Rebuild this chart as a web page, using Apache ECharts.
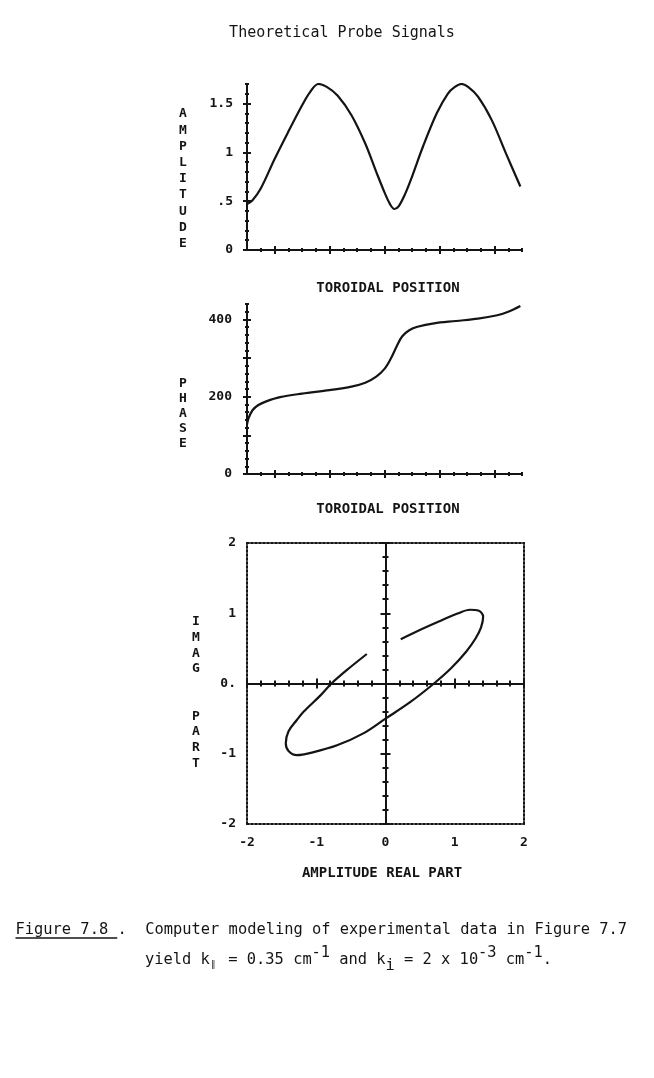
<!DOCTYPE html>
<html>
<head>
<meta charset="utf-8">
<script src="https://cdn.jsdelivr.net/npm/echarts@6/dist/echarts.min.js"></script>
<style>
  html, body { margin: 0; padding: 0; background: #fff; }
  #chart { width: 654px; height: 1078px; }
</style>
</head>
<body>
<div id="chart"></div>
<script>
// top panel: amplitude vs toroidal position
const ampPosition = [0, 0.1, 0.25, 0.5, 0.75, 1.0, 1.15, 1.3, 1.45, 1.65, 1.9, 2.15, 2.35, 2.5, 2.6, 2.68, 2.76, 2.88, 3.0, 3.2, 3.45, 3.65, 3.78, 3.9, 4.02, 4.2, 4.45, 4.7, 4.97];
const amplitude = [0.47, 0.51, 0.63, 0.93, 1.21, 1.48, 1.62, 1.70, 1.67, 1.58, 1.38, 1.09, 0.80, 0.59, 0.47, 0.42, 0.45, 0.58, 0.75, 1.06, 1.40, 1.60, 1.67, 1.70, 1.67, 1.57, 1.33, 1.00, 0.65];

// middle panel: phase vs toroidal position
const phasePosition = [0, 0.03, 0.1, 0.2, 0.35, 0.6, 1.0, 1.5, 1.9, 2.15, 2.35, 2.5, 2.62, 2.72, 2.82, 2.95, 3.1, 3.4, 3.8, 4.2, 4.55, 4.75, 4.97];
const phase = [128, 145, 165, 178, 188, 199, 208, 217, 226, 236, 252, 272, 300, 330, 356, 372, 381, 390, 396, 402, 411, 420, 435];

// bottom panel: imaginary vs real part
const realPart = [0.22, 0.45, 0.79, 1.05, 1.22, 1.34, 1.41, 1.38, 1.30, 1.17, 0.95, 0.70, 0.35, 0.0, -0.32, -0.70, -1.05, -1.28, -1.40, -1.44, -1.40, -1.28, -1.18, -0.95, -0.78, -0.56, -0.27];
const imagPart = [0.63, 0.74, 0.89, 1.00, 1.05, 1.04, 0.95, 0.80, 0.64, 0.46, 0.22, 0.0, -0.27, -0.50, -0.71, -0.88, -0.98, -1.02, -0.96, -0.85, -0.68, -0.52, -0.40, -0.18, 0.0, 0.19, 0.42];

// tick labels
const ampLabels = [0, 0.5, 1, 1.5];
const phaseLabels = [0, 200, 400];
const reLabels = [-2, -1, 0, 1, 2];
const imLabels = [-2, -1, 0, 1, 2];

const INK = '#141414';
const MONO = '"DejaVu Sans Mono", "Liberation Mono", monospace';

const steps = (a, b, s) => {
  const out = [];
  for (let v = a; v <= b + 1e-9; v += s) out.push(Math.round(v * 1000) / 1000);
  return out;
};
const without = (arr, ex) => arr.filter(v => !ex.some(e => Math.abs(e - v) < 1e-6));

const xAxes = [];
const yAxes = [];
const addX = o => { xAxes.push(o); return xAxes.length - 1; };
const addY = o => { yAxes.push(o); return yAxes.length - 1; };

const labelStyle = { color: INK, fontFamily: MONO, fontWeight: 'bold', fontSize: 13 };

function mainAxis(grid, min, max, position, labels, margin, formatter, lineType) {
  return {
    type: 'value', gridIndex: grid, min, max, position,
    axisLine: { show: true, onZero: false, lineStyle: { color: INK, width: 2, type: lineType || 'solid' } },
    axisTick: { show: false },
    splitLine: { show: false },
    axisLabel: labels
      ? Object.assign({ show: true, customValues: labels, margin, formatter }, labelStyle)
      : { show: false }
  };
}

// ticks that cross the axis: one axis draws outward, another inward
function crossTicks(add, grid, min, max, position, values, len, zeroIdx) {
  [false, true].forEach(inside => {
    add({
      type: 'value', gridIndex: grid, min, max, position,
      axisLine: zeroIdx == null
        ? { show: false, onZero: false }
        : { show: true, onZero: true, onZeroAxisIndex: zeroIdx, lineStyle: { color: INK, width: 2 } },
      axisLabel: { show: false },
      splitLine: { show: false },
      axisTick: { show: true, customValues: values, length: len, inside, lineStyle: { color: INK, width: 2 } }
    });
  });
}

// ---- top panel (grid 0)
const ampX = addX(mainAxis(0, 0, 5, 'bottom'));
const ampY = addY(mainAxis(0, 0, 1.7, 'left', ampLabels, 14, v => v === 0.5 ? '.5' : String(v)));
const posMajors = [0.5, 1.5, 2.5, 3.5, 4.5];
const posMinors = without(steps(0.25, 5, 0.25), posMajors);
crossTicks(addX, 0, 0, 5, 'bottom', posMajors, 4);
crossTicks(addX, 0, 0, 5, 'bottom', posMinors, 2);
crossTicks(addY, 0, 0, 1.7, 'left', steps(0, 1.5, 0.5), 4);
crossTicks(addY, 0, 0, 1.7, 'left', without(steps(0.1, 1.7, 0.1), steps(0, 1.5, 0.5)), 2);

// ---- middle panel (grid 1)
const phX = addX(mainAxis(1, 0, 5, 'bottom'));
const phY = addY(mainAxis(1, 0, 440, 'left', phaseLabels, 15, v => String(v)));
crossTicks(addX, 1, 0, 5, 'bottom', posMajors, 4);
crossTicks(addX, 1, 0, 5, 'bottom', posMinors, 2);
crossTicks(addY, 1, 0, 440, 'left', steps(0, 400, 100), 4);
crossTicks(addY, 1, 0, 440, 'left', without(steps(20, 440, 20), steps(0, 400, 100)), 2);

// ---- bottom panel (grid 2): dotted frame plus axes through the origin
const reX = addX(mainAxis(2, -2, 2, 'bottom', reLabels, 12, v => String(v), [2, 2]));
addX(mainAxis(2, -2, 2, 'top', null, 0, null, [2, 2]));
const imY = addY(mainAxis(2, -2, 2, 'left', imLabels, 11, v => v === 0 ? '0.' : String(v), [2, 2]));
addY(mainAxis(2, -2, 2, 'right', null, 0, null, [2, 2]));
const unitMajors = [-2, -1, 1, 2];
const unitMinors = without(steps(-2, 2, 0.2), [-2, -1, 0, 1, 2]);
crossTicks(addX, 2, -2, 2, 'bottom', unitMajors, 5, imY);
crossTicks(addX, 2, -2, 2, 'bottom', unitMinors, 3, imY);
crossTicks(addY, 2, -2, 2, 'left', unitMajors, 5, reX);
crossTicks(addY, 2, -2, 2, 'left', unitMinors, 3, reX);

const lineSeries = (xi, yi, xs, ys) => ({
  type: 'line',
  xAxisIndex: xi,
  yAxisIndex: yi,
  data: xs.map((x, i) => [x, ys[i]]),
  showSymbol: false,
  smooth: 0.35,
  lineStyle: { color: INK, width: 2.2 },
  silent: true
});

const txt = (text, x, y, opts) => ({
  type: 'text', silent: true,
  style: Object.assign({
    text, x, y, fill: INK,
    font: 'bold 13px ' + MONO,
    align: 'center', textAlign: 'center',
    verticalAlign: 'middle', textVerticalAlign: 'middle'
  }, opts || {})
});

const stacked = (text, x, firstCenter, lh) => txt(text, x, firstCenter - lh / 2, {
  verticalAlign: 'top', textVerticalAlign: 'top', lineHeight: lh
});

// caption, typewriter layout by character cell
const CELL = 9.25;
const CAP_X = 145;
const capTok = (idx, text, y, dy, size) => txt(text, CAP_X + idx * CELL, y + (dy || 0), {
  font: (size ? size + 'px ' : '15.4px ') + MONO,
  align: 'left', textAlign: 'left'
});
const L1 = 930, L2 = 960;

const graphics = [
  txt('Theoretical Probe Signals', 342, 33, { font: '15px ' + MONO }),
  stacked('A\nM\nP\nL\nI\nT\nU\nD\nE', 183, 114, 16.2),
  txt('TOROIDAL POSITION', 388, 288, { font: 'bold 14px ' + MONO }),
  stacked('P\nH\nA\nS\nE', 183, 384, 15),
  txt('TOROIDAL POSITION', 388, 509, { font: 'bold 14px ' + MONO }),
  stacked('I\nM\nA\nG\n\n\nP\nA\nR\nT', 196, 622, 15.7),
  txt('AMPLITUDE REAL PART', 382, 873, { font: 'bold 14px ' + MONO }),
  capTok(-14, 'Figure 7.8 .  Computer modeling of experimental data in Figure 7.7', L1),
  {
    type: 'line', silent: true,
    shape: { x1: CAP_X - 14 * CELL, y1: 938, x2: CAP_X - 3 * CELL, y2: 938 },
    style: { stroke: INK, lineWidth: 1.3 }
  },
  capTok(0, 'yield k', L2),
  capTok(7.1, '\u2225', L2, 5, 9),
  capTok(8, ' = 0.35 cm', L2),
  capTok(18, '-1', L2, -7),
  capTok(20, ' and k', L2),
  capTok(26, 'i', L2, 6),
  capTok(27, ' = 2 x 10', L2),
  capTok(36, '-3', L2, -7),
  capTok(38, ' cm', L2),
  capTok(41, '-1', L2, -7),
  capTok(43, '.', L2)
];

const chart = echarts.init(document.getElementById('chart'), null, { renderer: 'canvas' });
chart.setOption({
  animation: false,
  backgroundColor: '#fff',
  grid: [
    { left: 247, top: 84, width: 275, height: 166 },
    { left: 247, top: 304, width: 275, height: 170 },
    { left: 247, top: 543, width: 277, height: 281 }
  ],
  xAxis: xAxes,
  yAxis: yAxes,
  series: [
    lineSeries(ampX, ampY, ampPosition, amplitude),
    lineSeries(phX, phY, phasePosition, phase),
    lineSeries(reX, imY, realPart, imagPart)
  ],
  graphic: graphics
});
</script>
</body>
</html>
